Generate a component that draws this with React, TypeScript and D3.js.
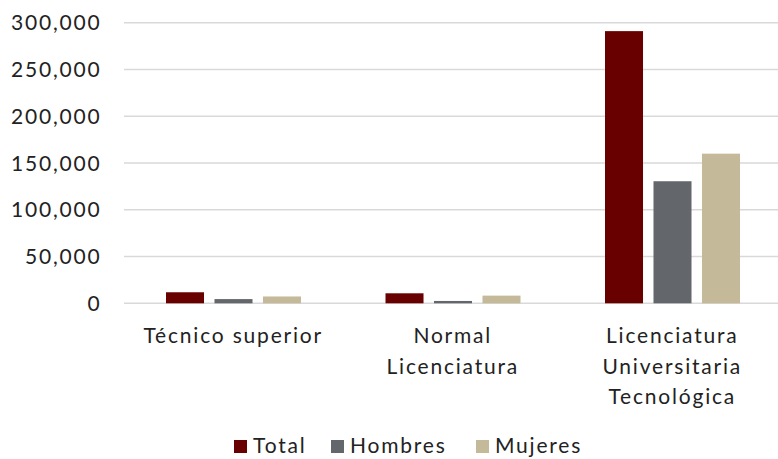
import React from "react";
import * as d3 from "d3";

const categories = [
  ["Técnico superior"],
  ["Normal", "Licenciatura"],
  ["Licenciatura", "Universitaria", "Tecnológica"],
];
const seriesNames = ["Total", "Hombres", "Mujeres"];
const totalValues = [11800, 10700, 291000];
const hombresValues = [4500, 2500, 130500];
const mujeresValues = [7300, 8200, 160000];
const yTicks = [0, 50000, 100000, 150000, 200000, 250000, 300000];
const colors = ["#680000", "#63666A", "#C4BA99"];

const W = 778;
const H = 459;
const FONT = "Lato, 'Open Sans', sans-serif";
const LS = 1.8;

export default function App() {
  const seriesValues = [totalValues, hombresValues, mujeresValues];
  const x0 = d3
    .scaleBand<number>()
    .domain(categories.map((_, i) => i))
    .range([124, 782.5])
    .padding(0);
  const x1 = d3
    .scaleBand<number>()
    .domain(seriesNames.map((_, i) => i))
    .range([42, 177])
    .paddingInner(0.216)
    .paddingOuter(0);
  const y = d3.scaleLinear().domain([0, 300000]).range([303.3, 22.7]);
  const fmt = d3.format(",");

  const legendX = [234, 331, 476];

  return (
    <svg
      width={W}
      height={H}
      style={{ position: "absolute", left: 0, top: 0, background: "#fff" }}
      fontFamily={FONT}
      letterSpacing={LS}
    >
      {yTicks.map((t) => (
        <g key={t}>
          <line
            x1={124}
            x2={W}
            y1={y(t)}
            y2={y(t)}
            stroke="#D9D9D9"
            strokeWidth={1.5}
          />
          <text
            x={101.5}
            y={y(t)}
            dy="0.36em"
            textAnchor="end"
            fontSize={21}
            fill="#222"
          >
            {fmt(t)}
          </text>
        </g>
      ))}
      {categories.map((_, ci) =>
        seriesValues.map((vals, si) => (
          <rect
            key={`${ci}-${si}`}
            x={(x0(ci) ?? 0) + (x1(si) ?? 0)}
            y={y(vals[ci])}
            width={x1.bandwidth()}
            height={y(0) - y(vals[ci])}
            fill={colors[si]}
          />
        ))
      )}
      {categories.map((lines, ci) => {
        const cx = (x0(ci) ?? 0) + x0.bandwidth() / 2 - 0.5;
        return (
          <text key={ci} textAnchor="middle" fontSize={21} fill="#222">
            {lines.map((l, li) => (
              <tspan key={li} x={cx} y={343 + li * 30.5}>
                {l}
              </tspan>
            ))}
          </text>
        );
      })}
      {seriesNames.map((s, i) => (
        <g key={s}>
          <rect x={legendX[i]} y={440} width={13} height={13} fill={colors[i]} />
          <text x={legendX[i] + 19} y={453} fontSize={21} fill="#222">
            {s}
          </text>
        </g>
      ))}
    </svg>
  );
}
